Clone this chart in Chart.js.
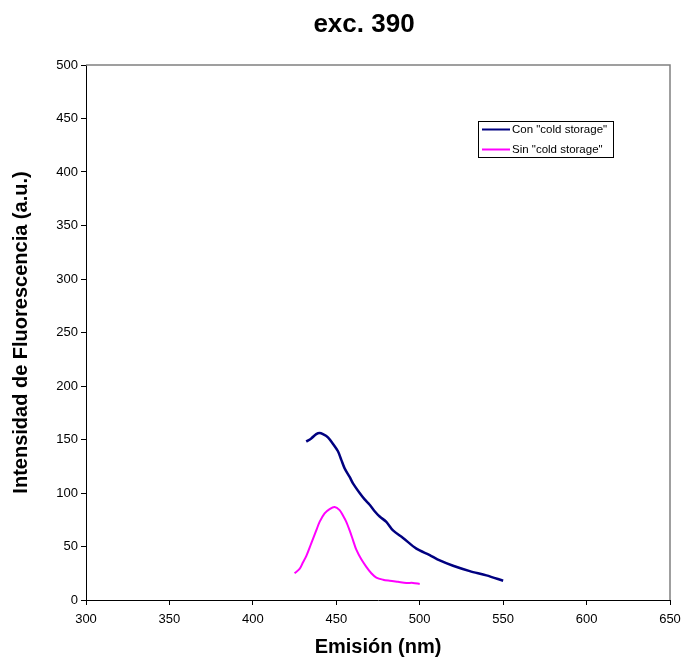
<!DOCTYPE html>
<html>
<head>
<meta charset="utf-8">
<title>exc. 390</title>
<script src="https://cdn.jsdelivr.net/npm/chart.js@4"></script>
<style>
    body { margin: 0; background: #fff; }
    canvas { display: block; }
</style>
</head>
<body>
<canvas id="emisionChart" width="681" height="659"></canvas>
<script>
// Texts
const chartTitle = "exc. 390";
const xAxisTitle = "Emisión (nm)";
const yAxisTitle = "Intensidad de Fluorescencia (a.u.)";

// Axis ranges / ticks
const xTicks = [300, 350, 400, 450, 500, 550, 600, 650];
const yTicks = [0, 50, 100, 150, 200, 250, 300, 350, 400, 450, 500];

// Con "cold storage"
const conLabel = 'Con "cold storage"';
const conEmision = [432, 435, 438, 440, 442, 445, 448, 451, 453, 455, 458, 460, 464, 467, 470, 473, 476, 480, 484, 490, 498, 506, 512, 520, 530, 540, 550];
const conIntensidad = [148, 151, 155, 156, 155, 152, 146, 139, 131, 123, 115, 109, 100, 94, 89, 83, 78, 73, 65, 58, 48, 42, 37, 32, 27, 23, 18];

// Sin "cold storage"
const sinLabel = 'Sin "cold storage"';
const sinEmision = [425, 428, 430, 432, 435, 438, 440, 443, 446, 449, 452, 454, 456, 458, 460, 462, 465, 468, 471, 474, 478, 482, 487, 492, 496, 500];
const sinIntensidad = [25, 29, 35, 41, 53, 65, 73, 81, 85, 87, 84, 79, 73, 65, 56, 47, 38, 31, 25, 21, 19, 18, 17, 16, 16, 15];

const FONT = "'Liberation Sans', Arial, sans-serif";

function toPoints(xs, ys) {
    return xs.map((x, i) => ({ x: x, y: ys[i] }));
}

// grey top/right frame of the plot area
const plotFrame = {
    id: "plotFrame",
    beforeDatasetsDraw(chart) {
        const { ctx, chartArea: a } = chart;
        ctx.save();
        ctx.strokeStyle = "#808080";
        ctx.lineWidth = 1.5;
        ctx.beginPath();
        ctx.moveTo(a.left, a.top);
        ctx.lineTo(a.right, a.top);
        ctx.lineTo(a.right, a.bottom);
        ctx.stroke();
        ctx.restore();
    }
};

// chart title (centred like the Excel original, not on the canvas)
const excelTitle = {
    id: "excelTitle",
    afterDraw(chart) {
        const { ctx } = chart;
        ctx.save();
        ctx.font = "bold 26px " + FONT;
        ctx.fillStyle = "#000";
        ctx.textAlign = "center";
        ctx.textBaseline = "middle";
        ctx.fillText(chartTitle, 364, 25);
        ctx.restore();
    }
};

// boxed legend inside the plot
const boxLegend = {
    id: "boxLegend",
    afterDraw(chart) {
        const { ctx } = chart;
        const x = 478, y = 121, w = 135, h = 36;
        ctx.save();
        ctx.fillStyle = "#fff";
        ctx.fillRect(x, y, w, h);
        ctx.strokeStyle = "#000";
        ctx.lineWidth = 1;
        ctx.strokeRect(x + 0.5, y + 0.5, w, h);
        ctx.font = "11.5px " + FONT;
        ctx.textBaseline = "middle";
        chart.data.datasets.forEach((ds, i) => {
            const ly = y + 8.5 + i * 20;
            ctx.strokeStyle = ds.borderColor;
            ctx.lineWidth = 2;
            ctx.beginPath();
            ctx.moveTo(x + 4, ly);
            ctx.lineTo(x + 32, ly);
            ctx.stroke();
            ctx.fillStyle = "#000";
            ctx.fillText(ds.label, x + 34, ly);
        });
        ctx.restore();
    }
};

const ctx = document.getElementById("emisionChart");
new Chart(ctx, {
    type: "line",
    data: {
        datasets: [
            {
                label: conLabel,
                data: toPoints(conEmision, conIntensidad),
                borderColor: "#000080",
                borderWidth: 2.5,
                pointRadius: 0,
                tension: 0.3,
                fill: false
            },
            {
                label: sinLabel,
                data: toPoints(sinEmision, sinIntensidad),
                borderColor: "#ff00ff",
                borderWidth: 2,
                pointRadius: 0,
                tension: 0.3,
                fill: false
            }
        ]
    },
    options: {
        responsive: false,
        animation: false,
        layout: { padding: { top: 65, left: 0, right: 11, bottom: 0 } },
        plugins: {
            legend: { display: false },
            title: { display: false },
            tooltip: { enabled: false }
        },
        scales: {
            x: {
                type: "linear",
                min: xTicks[0],
                max: xTicks[xTicks.length - 1],
                afterBuildTicks: axis => { axis.ticks = xTicks.map(v => ({ value: v })); },
                afterFit: axis => {
                    axis.height = 59;
                    axis.paddingLeft = 0;
                    axis.paddingRight = 0;
                },
                border: { color: "#000", width: 1 },
                grid: { drawOnChartArea: false, drawTicks: true, tickLength: 5, color: "#000" },
                ticks: { color: "#000", padding: 7, maxRotation: 0, font: { family: FONT, size: 13 } },
                title: {
                    display: true,
                    text: xAxisTitle,
                    color: "#000",
                    padding: { top: 8, bottom: 0 },
                    font: { family: FONT, size: 20, weight: "bold" }
                }
            },
            y: {
                min: yTicks[0],
                max: yTicks[yTicks.length - 1],
                afterBuildTicks: axis => { axis.ticks = yTicks.map(v => ({ value: v })); },
                afterFit: axis => { axis.width = 86; },
                border: { color: "#000", width: 1 },
                grid: { drawOnChartArea: false, drawTicks: true, tickLength: 5, color: "#000" },
                ticks: { color: "#000", padding: 3, font: { family: FONT, size: 13 } },
                title: {
                    display: true,
                    text: yAxisTitle,
                    color: "#000",
                    padding: { top: 9, bottom: 0 },
                    font: { family: FONT, size: 20, weight: "bold" }
                }
            }
        }
    },
    plugins: [plotFrame, excelTitle, boxLegend]
});
</script>
</body>
</html>
